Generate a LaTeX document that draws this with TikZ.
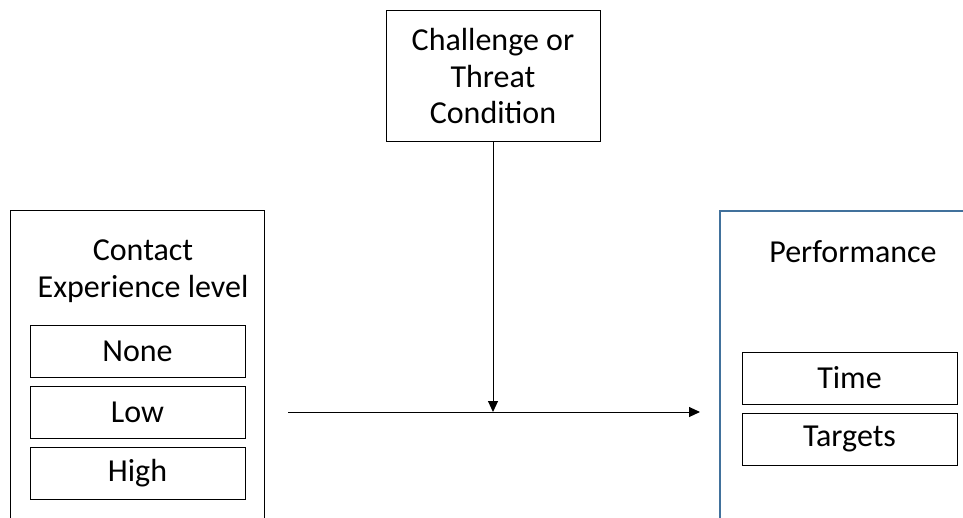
\documentclass[tikz,border=0pt]{standalone}
\usepackage{fontspec}
\setmainfont{Carlito}
\usepackage{xcolor}
\usetikzlibrary{positioning,calc,arrows.meta}
\definecolor{perfblue}{HTML}{41719C}

\begin{document}
\begin{tikzpicture}[x=1pt, y=-1pt, font=\fontsize{32}{36.5}\selectfont,
    levelbox/.style={draw, line width=1pt, minimum width=215pt, minimum height=52pt, inner sep=0pt},
    condbox/.style={draw, line width=1pt, minimum width=214pt, minimum height=131pt, align=center, inner sep=0pt},
    link/.style={line width=1pt, -{Triangle[length=11pt, width=10pt]}}]
        \useasboundingbox (0,0) rectangle (963,518);

        % Condition
        \node[condbox] (cond) at (493,76.5) {Challenge or\\Threat\\Condition};

        % Contact experience
        \draw[line width=1pt] (10,518) -- (10,211) -- (264,211) -- (264,518);
        \node[align=center] (contact) at (143,271) {Contact\\Experience level};
        \node[levelbox] (none) at (137.5,351.5) {None};
        \node[levelbox, below=8pt of none] (low) {Low};
        \node[levelbox, below=8pt of low] (high) {High};

        % Performance
        \draw[perfblue, line width=1.5pt] (720,518) -- (720,211) -- (963,211);
        \node (perf) at (853,252) {Performance};
        \node[levelbox] (time) at (849.5,378) {Time};
        \node[levelbox, below=8pt of time] (targets) {Targets};

        % Connections
        \coordinate (from) at (288,412);
        \coordinate (to) at (700,412);
        \coordinate (meet) at (cond.south |- from);
        \draw[link] (from) -- (to);
        \draw[link] (cond.south) -- (meet);
    \end{tikzpicture}
\end{document}
